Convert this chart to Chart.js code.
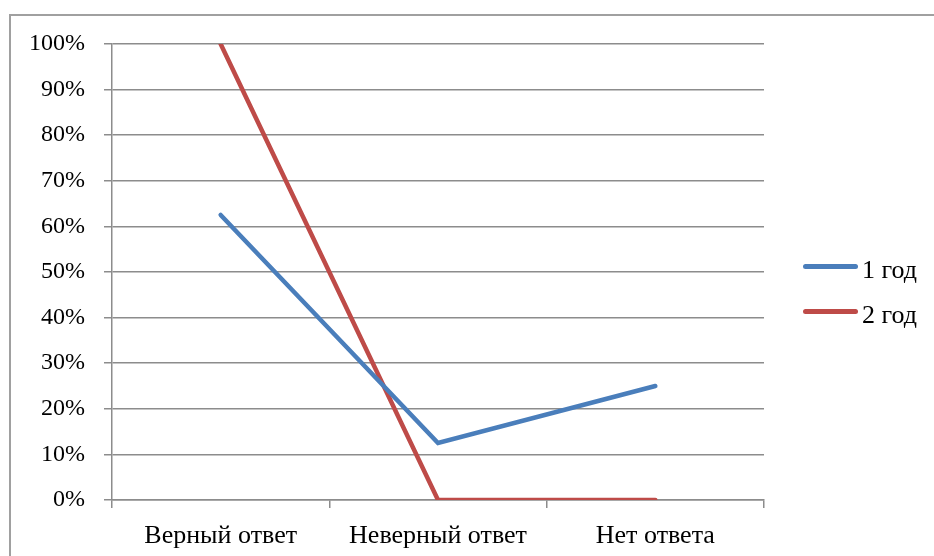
<!DOCTYPE html>
<html><head><meta charset="utf-8">
<script src="https://cdn.jsdelivr.net/npm/chart.js@4"></script>
<style>
html,body{margin:0;padding:0;background:#fff;overflow:hidden;}
#wrap{position:relative;width:934px;height:556px;}
#frame{position:absolute;left:9px;top:14px;width:1000px;height:1000px;border:2px solid #a0a0a0;box-sizing:border-box;}
canvas{position:absolute;left:0;top:0;}
.leg{position:absolute;left:803px;height:30px;font:26px/30px 'Liberation Serif',serif;color:#000;}
.leg span.l{position:absolute;left:0;top:8px;width:55px;height:5px;border-radius:3px;}
.leg span.t{position:absolute;left:59px;top:-1px;white-space:nowrap;}
</style></head>
<body><div id="wrap"><div id="frame"></div><canvas id="c" width="934" height="556"></canvas>
<div class="leg" style="top:256px"><span class="l" style="background:#4a7ebb"></span><span class="t">1 год</span></div>
<div class="leg" style="top:301px"><span class="l" style="background:#be4b48"></span><span class="t">2 год</span></div>
</div>
<script>
const categories = ['Верный ответ', 'Неверный ответ', 'Нет ответа'];
const series1Name = '1 год';
const series1 = [62.5, 12.5, 25];
const series2Name = '2 год';
const series2 = [100, 0, 0];
const yTicks = [0,10,20,30,40,50,60,70,80,90,100];

new Chart(document.getElementById('c'), {
  type: 'line',
  data: {
    labels: categories,
    datasets: [
      {label: series1Name, data: series1, borderColor: '#4a7ebb', backgroundColor: '#4a7ebb', borderWidth: 4.5, pointRadius: 0, tension: 0, borderCapStyle: 'round'},
      {label: series2Name, data: series2, borderColor: '#be4b48', backgroundColor: '#be4b48', borderWidth: 4.5, pointRadius: 0, tension: 0, borderCapStyle: 'round'}
    ]
  },
  options: {
    responsive: false,
    animation: false,
    layout: {padding: {left: 0, top: 44, right: 170, bottom: 0}},
    plugins: {legend: {display: false}, tooltip: {enabled: false}},
    scales: {
      x: {
        offset: true,
        grid: {offset: true, drawOnChartArea: false, drawTicks: true, tickLength: 8, color: '#8c8c8c', lineWidth: 1.5},
        border: {display: true, color: '#8c8c8c', width: 1.5},
        ticks: {color: '#000', font: {family: 'Liberation Serif', size: 26}, padding: 13, maxRotation: 0, autoSkip: false},
        afterFit: s => { s.height = 56; }
      },
      y: {
        min: 0, max: 100,
        afterBuildTicks: s => { s.ticks = yTicks.map(v => ({value: v})); },
        grid: {color: '#8c8c8c', lineWidth: 1.5, tickLength: 8},
        border: {display: true, color: '#8c8c8c', width: 1.5},
        ticks: {color: '#000', font: {family: 'Liberation Serif', size: 24}, padding: 19, callback: v => v + '%'},
        afterFit: s => { s.width = 112; }
      }
    }
  }
});
</script></body></html>
